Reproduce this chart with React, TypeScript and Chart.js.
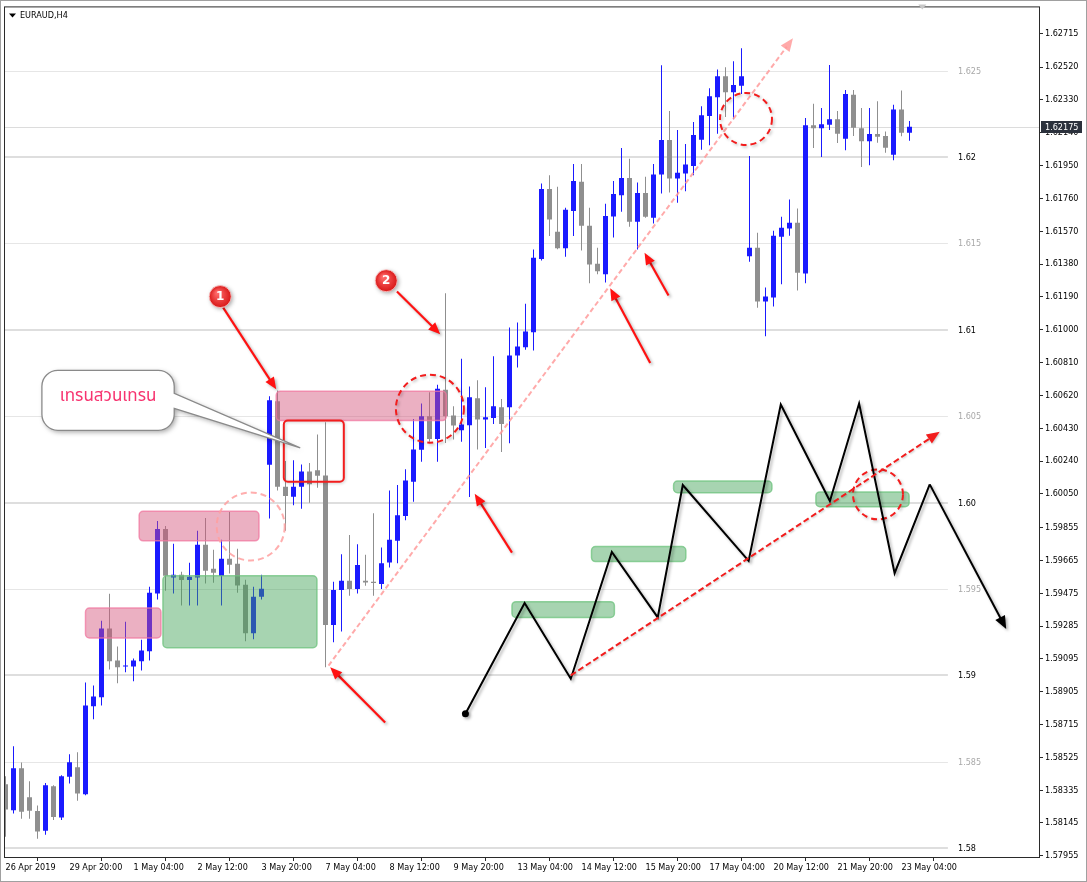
import { useEffect, useRef } from 'react';
import { Chart, registerables } from 'chart.js';

Chart.register(...registerables);

// ---------------- DATA ----------------
const SYMBOL = 'EURAUD,H4';

const opens = [
  1.58369, 1.58219, 1.58462, 1.58294, 1.58214, 1.58100, 1.58358, 1.58177, 1.58412, 1.58467,
  1.58312, 1.58821, 1.58873, 1.59270, 1.59085, 1.59051, 1.59051, 1.59081, 1.59139, 1.59474,
  1.59847, 1.59566, 1.59582, 1.59551, 1.59566, 1.59755, 1.59616, 1.59574, 1.59674, 1.59645,
  1.59524, 1.59243, 1.59455, 1.60219, 1.60586, 1.60091, 1.60034, 1.60091, 1.60180, 1.60186,
  1.60157, 1.59291, 1.59493, 1.59547, 1.59499, 1.59547, 1.59541, 1.59528, 1.59653, 1.59778,
  1.59922, 1.60120, 1.60305, 1.60499, 1.60368, 1.60653, 1.60503, 1.60418, 1.60447, 1.60603,
  1.60480, 1.60489, 1.60551, 1.60551, 1.60851, 1.60898, 1.60986, 1.61410, 1.61815, 1.61567,
  1.61471, 1.61688, 1.61856, 1.61602, 1.61382, 1.61321, 1.61655, 1.61779, 1.61879, 1.61625,
  1.61792, 1.61648, 1.61898, 1.62098, 1.61875, 1.61904, 1.61948, 1.62100, 1.62237, 1.62346,
  1.62468, 1.62375, 1.62412, 1.61425, 1.61475, 1.61163, 1.61186, 1.61538, 1.61586, 1.61619,
  1.61326, 1.62183, 1.62167, 1.62186, 1.62218, 1.62106, 1.62360, 1.62167, 1.62091, 1.62133,
  1.62121, 1.62013, 1.62275, 1.62140,
];
const highs = [
  1.58416, 1.58589, 1.58495, 1.58387, 1.58246, 1.58377, 1.58364, 1.58421, 1.58543, 1.58554,
  1.58958, 1.58941, 1.59316, 1.59472, 1.59166, 1.59310, 1.59097, 1.59206, 1.59512, 1.59893,
  1.59864, 1.59761, 1.59599, 1.59651, 1.59836, 1.59911, 1.59726, 1.59784, 1.59945, 1.59732,
  1.59553, 1.59512, 1.59582, 1.60615, 1.60648, 1.60240, 1.60244, 1.60220, 1.60228, 1.60394,
  1.60465, 1.59541, 1.59701, 1.59812, 1.59759, 1.59697, 1.59938, 1.59739, 1.60070, 1.60101,
  1.60192, 1.60484, 1.60573, 1.60638, 1.60682, 1.61211, 1.60557, 1.60832, 1.60671, 1.60707,
  1.60667, 1.60846, 1.60599, 1.61013, 1.61042, 1.61150, 1.61465, 1.61846, 1.61894, 1.61827,
  1.61706, 1.61960, 1.61960, 1.61706, 1.61475, 1.61729, 1.61861, 1.62052, 1.61990, 1.61852,
  1.61885, 1.61960, 1.62531, 1.62266, 1.62156, 1.62075, 1.62202, 1.62294, 1.62398, 1.62506,
  1.62519, 1.62554, 1.62629, 1.62006, 1.61561, 1.61244, 1.61573, 1.61654, 1.61754, 1.61702,
  1.62225, 1.62308, 1.62283, 1.62533, 1.62266, 1.62387, 1.62387, 1.62283, 1.62283, 1.62323,
  1.62148, 1.62302, 1.62385, 1.62208,
];
const lows = [
  1.58065, 1.58200, 1.58169, 1.58169, 1.58054, 1.58077, 1.58162, 1.58162, 1.58373, 1.58273,
  1.58306, 1.58746, 1.58825, 1.59033, 1.58954, 1.59018, 1.58966, 1.59027, 1.59085, 1.59439,
  1.59489, 1.59474, 1.59404, 1.59404, 1.59404, 1.59531, 1.59535, 1.59404, 1.59589, 1.59478,
  1.59197, 1.59208, 1.59439, 1.59907, 1.60070, 1.59836, 1.59984, 1.59964, 1.59999, 1.60085,
  1.59046, 1.59191, 1.59254, 1.59460, 1.59474, 1.59518, 1.59460, 1.59499, 1.59624, 1.59649,
  1.59897, 1.60005, 1.60236, 1.60351, 1.60236, 1.60345, 1.60365, 1.60351, 1.60032, 1.60307,
  1.60316, 1.60455, 1.60293, 1.60343, 1.60782, 1.60884, 1.60880, 1.61401, 1.61542, 1.61466,
  1.61423, 1.61542, 1.61459, 1.61269, 1.61321, 1.61274, 1.61534, 1.61683, 1.61596, 1.61465,
  1.61648, 1.61615, 1.61788, 1.61794, 1.61735, 1.61802, 1.61894, 1.62042, 1.62068, 1.62134,
  1.62231, 1.62218, 1.62365, 1.61394, 1.61128, 1.60963, 1.61134, 1.61263, 1.61544, 1.61227,
  1.61269, 1.62052, 1.62000, 1.62156, 1.62081, 1.62039, 1.62121, 1.61942, 1.61952, 1.62083,
  1.62025, 1.61981, 1.62120, 1.62094,
];
const closes = [
  1.58223, 1.58462, 1.58210, 1.58216, 1.58095, 1.58364, 1.58179, 1.58416, 1.58496, 1.58316,
  1.58825, 1.58877, 1.59270, 1.59081, 1.59046, 1.59055, 1.59085, 1.59143, 1.59478, 1.59847,
  1.59576, 1.59582, 1.59551, 1.59570, 1.59755, 1.59605, 1.59593, 1.59674, 1.59639, 1.59520,
  1.59243, 1.59455, 1.59501, 1.60592, 1.60091, 1.60038, 1.60091, 1.60180, 1.60105, 1.60155,
  1.59291, 1.59493, 1.59547, 1.59499, 1.59638, 1.59537, 1.59534, 1.59649, 1.59784, 1.59926,
  1.60128, 1.60307, 1.60499, 1.60368, 1.60659, 1.60499, 1.60446, 1.60451, 1.60609, 1.60480,
  1.60494, 1.60557, 1.60455, 1.60851, 1.60903, 1.60990, 1.61417, 1.61815, 1.61638, 1.61471,
  1.61694, 1.61861, 1.61602, 1.61378, 1.61338, 1.61659, 1.61786, 1.61879, 1.61625, 1.61792,
  1.61654, 1.61898, 1.62098, 1.61875, 1.61908, 1.61956, 1.62127, 1.62241, 1.62352, 1.62468,
  1.62375, 1.62416, 1.62468, 1.61475, 1.61163, 1.61192, 1.61544, 1.61590, 1.61619, 1.61330,
  1.62183, 1.62167, 1.62190, 1.62218, 1.62134, 1.62364, 1.62169, 1.62091, 1.62133, 1.62117,
  1.62054, 1.62275, 1.62140, 1.62175,
];

const dateTickIdx = [0, 8, 16, 24, 32, 40, 48, 56, 64, 72, 80, 88, 96, 104, 112];
const dateTickLabels = [
  '26 Apr 2019', '29 Apr 20:00', '1 May 04:00', '2 May 12:00', '3 May 20:00',
  '7 May 04:00', '8 May 12:00', '9 May 20:00', '13 May 04:00', '14 May 12:00',
  '15 May 20:00', '17 May 04:00', '20 May 12:00', '21 May 20:00', '23 May 04:00',
];

const priceTickLabels = [
  '1.57955', '1.58145', '1.58335', '1.58525', '1.58715', '1.58905', '1.59095',
  '1.59285', '1.59475', '1.59665', '1.59855', '1.60050', '1.60240', '1.60430',
  '1.60620', '1.60810', '1.61000', '1.61190', '1.61380', '1.61570', '1.61760',
  '1.61950', '1.62140', '1.62330', '1.62520', '1.62715',
];
const priceTickValues = priceTickLabels.map(Number);

const levelValues = [1.58, 1.585, 1.59, 1.595, 1.6, 1.605, 1.61, 1.615, 1.62, 1.625];
const levelLabels = ['1.58', '1.585', '1.59', '1.595', '1.60', '1.605', '1.61', '1.615', '1.62', '1.625'];

const BID = 1.62175;
const BID_LABEL = '1.62175';

// annotations, anchored in (bar index, price)
const pinkZones = [
  { x0: 10.0, x1: 19.43, top: 1.59389, bottom: 1.59216 },
  { x0: 16.71, x1: 31.68, top: 1.59949, bottom: 1.59778 },
  { x0: 33.84, x1: 55.09, top: 1.60644, bottom: 1.60474 },
];
const greenZones = [
  { x0: 19.68, x1: 38.93, top: 1.59576, bottom: 1.5916 },
  { x0: 63.31, x1: 76.11, top: 1.59426, bottom: 1.59335 },
  { x0: 73.25, x1: 85.04, top: 1.59745, bottom: 1.59658 },
  { x0: 83.51, x1: 95.8, top: 1.60124, bottom: 1.60057 },
  { x0: 101.3, x1: 112.95, top: 1.60061, bottom: 1.59976 },
];
const redBox = { x0: 34.79, x1: 42.29, top: 1.60474, bottom: 1.6012 };
const dashedCircles = [
  { x: 30.65, y: 1.59861, faint: true },
  { x: 53.05, y: 1.60543, faint: false },
  { x: 92.56, y: 1.6222, faint: false },
  { x: 109.06, y: 1.60047, faint: false },
];
const circleRadii = [34, 34, 26, 25];
const pinkTrend = { from: [40.38, 1.59056], to: [98.43, 1.62687] };
const redTrend = { from: [70.66, 1.58999], to: [116.78, 1.60409] };
const redArrows = [
  { from: [27.21, 1.61128], to: [33.84, 1.60655] },
  { from: [48.93, 1.61221], to: [54.34, 1.60974] },
  { from: [47.46, 1.58727], to: [40.59, 1.59046] },
  { from: [63.31, 1.5971], to: [58.65, 1.60051] },
  { from: [80.59, 1.60807], to: [75.59, 1.6124] },
  { from: [82.88, 1.61198], to: [79.88, 1.61446] },
];
const badges = [
  { x: 26.84, y: 1.61192, text: '1' },
  { x: 47.59, y: 1.61284, text: '2' },
];
const zigzagIdx = [57.49, 64.89, 70.66, 75.79, 81.53, 84.66, 92.89, 96.91, 103.05, 106.7, 111.14, 115.53, 125.09];
const zigzagPrice = [1.58777, 1.59418, 1.5898, 1.59714, 1.59335, 1.60101, 1.59662, 1.60567, 1.60009, 1.60573, 1.59591, 1.60105, 1.59268];
const callout = {
  x0: 4.55, x1: 21.09, top: 1.60765, bottom: 1.60418,
  baseTop: 1.60632, baseBottom: 1.60545,
  tipX: 36.84, tipY: 1.60316,
  text: 'เทรนสวนเทรน',
};
const LEVEL_END_IDX = 117.8;
const LEVEL_LABEL_IDX = 119.06;
const SHIFT_MARK_IDX = 114.6;

// ---------------- SCALE SETUP ----------------
const X_MIN = -0.0625;
const X_MAX = 129.1875;
const Y_MIN = 1.579481;
const Y_MAX = 1.628658;

const FONT = '"DejaVu Sans Condensed", "DejaVu Sans", sans-serif';
const THAI_FONT = '"Noto Sans Thai", "Noto Sans Thai Looped", "Loma", "Garuda", "Noto Sans", sans-serif';
const BULL = '#1a1aff';
const BEAR = '#8f8f8f';
const FRAME = '#2a2a2a';

function arrowLine(ctx: CanvasRenderingContext2D, x0: number, y0: number, x1: number, y1: number,
  color: string, lw: number, head: number, dash: number[] = []) {
  const ang = Math.atan2(y1 - y0, x1 - x0);
  const c = Math.cos(ang), s = Math.sin(ang);
  const bx = x1 - c * head * 0.8, by = y1 - s * head * 0.8;
  ctx.strokeStyle = color;
  ctx.lineWidth = lw;
  ctx.setLineDash(dash);
  ctx.beginPath();
  ctx.moveTo(x0, y0);
  ctx.lineTo(bx, by);
  ctx.stroke();
  ctx.setLineDash([]);
  ctx.fillStyle = color;
  const w = head * 0.42;
  ctx.beginPath();
  ctx.moveTo(x1, y1);
  ctx.lineTo(x1 - c * head + s * w, y1 - s * head - c * w);
  ctx.lineTo(x1 - c * head - s * w, y1 - s * head + c * w);
  ctx.closePath();
  ctx.fill();
}

function shadow(ctx: CanvasRenderingContext2D, a = 0.3, blur = 3, off = 1.5) {
  ctx.shadowColor = `rgba(0,0,0,${a})`;
  ctx.shadowBlur = blur;
  ctx.shadowOffsetX = off;
  ctx.shadowOffsetY = off;
}
function noShadow(ctx: CanvasRenderingContext2D) {
  ctx.shadowColor = 'rgba(0,0,0,0)';
  ctx.shadowBlur = 0;
  ctx.shadowOffsetX = 0;
  ctx.shadowOffsetY = 0;
}

const overlay = {
  id: 'overlay',
  beforeDatasetsDraw(chart: any) {
    const { ctx, chartArea: a, scales } = chart;
    const X = (v: number) => scales.x.getPixelForValue(v);
    const Y = (v: number) => scales.y.getPixelForValue(v);
    ctx.save();
    ctx.beginPath();
    ctx.rect(a.left, a.top, a.right - a.left, a.bottom - a.top);
    ctx.clip();
    const xEnd = X(LEVEL_END_IDX);
    levelValues.forEach((lv, k) => {
      const major = levelLabels[k].length <= 4;
      const py = Math.round(Y(lv));
      ctx.fillStyle = major ? '#dedede' : '#e6e6e6';
      if (major) ctx.fillRect(a.left, py - 1, xEnd - a.left, 2);
      else ctx.fillRect(a.left, py, xEnd - a.left, 1);
      ctx.font = `9px ${FONT}`;
      ctx.textBaseline = 'middle';
      ctx.textAlign = 'left';
      ctx.fillStyle = major ? '#000000' : '#a9a9a9';
      ctx.fillText(levelLabels[k], X(LEVEL_LABEL_IDX), py + 0.5);
    });
    // bid line
    const by = Math.round(Y(BID));
    ctx.fillStyle = '#dcdcdc';
    ctx.fillRect(a.left, by, a.right - a.left, 1);
    ctx.restore();
  },
  afterDatasetsDraw(chart: any) {
    const { ctx, chartArea: a, scales } = chart;
    const X = (v: number) => scales.x.getPixelForValue(v);
    const Y = (v: number) => scales.y.getPixelForValue(v);
    ctx.save();
    ctx.beginPath();
    ctx.rect(a.left, a.top, a.right - a.left, a.bottom - a.top);
    ctx.clip();

    // zones
    const zone = (z: any, fill: string, stroke: string) => {
      const l = X(z.x0), r = X(z.x1), t = Y(z.top), b = Y(z.bottom);
      ctx.beginPath();
      ctx.roundRect(l, t, r - l, b - t, 4);
      ctx.fillStyle = fill;
      ctx.fill();
      ctx.lineWidth = 1.5;
      ctx.strokeStyle = stroke;
      ctx.stroke();
    };
    pinkZones.forEach((z) => zone(z, 'rgba(212,82,122,0.46)', 'rgba(240,120,160,0.75)'));
    greenZones.forEach((z) => zone(z, 'rgba(64,162,86,0.46)', 'rgba(110,195,125,0.75)'));

    // red box
    {
      const l = X(redBox.x0), r = X(redBox.x1), t = Y(redBox.top), b = Y(redBox.bottom);
      shadow(ctx, 0.2, 3, 1);
      ctx.beginPath();
      ctx.roundRect(l, t, r - l, b - t, 4);
      ctx.strokeStyle = '#f21d1d';
      ctx.lineWidth = 2;
      ctx.stroke();
      noShadow(ctx);
    }

    // pink trend line
    arrowLine(ctx, X(pinkTrend.from[0]), Y(pinkTrend.from[1]), X(pinkTrend.to[0]), Y(pinkTrend.to[1]),
      'rgba(255,155,155,0.85)', 2, 13, [5, 3]);

    // dashed circles
    dashedCircles.forEach((c, k) => {
      ctx.beginPath();
      ctx.arc(X(c.x), Y(c.y), circleRadii[k], 0, Math.PI * 2);
      ctx.setLineDash([6, 4]);
      ctx.lineWidth = 2;
      if (c.faint) {
        ctx.strokeStyle = 'rgba(255,160,160,0.85)';
      } else {
        shadow(ctx, 0.25, 3, 1.5);
        ctx.strokeStyle = '#f21d1d';
      }
      ctx.stroke();
      noShadow(ctx);
      ctx.setLineDash([]);
    });

    // red arrows
    redArrows.forEach((ar) => {
      shadow(ctx, 0.28, 3, 2);
      arrowLine(ctx, X(ar.from[0]), Y(ar.from[1]), X(ar.to[0]), Y(ar.to[1]), '#ff1212', 2.2, 12);
      noShadow(ctx);
    });

    // zigzag
    {
      shadow(ctx, 0.3, 3, 2);
      ctx.strokeStyle = '#000';
      ctx.lineWidth = 2;
      ctx.lineJoin = 'miter';
      ctx.beginPath();
      const n = zigzagIdx.length;
      for (let k = 0; k < n - 1; k++) {
        const px = X(zigzagIdx[k]), py = Y(zigzagPrice[k]);
        if (k === 0) ctx.moveTo(px, py); else ctx.lineTo(px, py);
      }
      ctx.stroke();
      arrowLine(ctx, X(zigzagIdx[n - 2]), Y(zigzagPrice[n - 2]), X(zigzagIdx[n - 1]), Y(zigzagPrice[n - 1]), '#000', 2, 13);
      ctx.fillStyle = '#000';
      ctx.beginPath();
      ctx.arc(X(zigzagIdx[0]), Y(zigzagPrice[0]), 3.5, 0, Math.PI * 2);
      ctx.fill();
      noShadow(ctx);
    }

    // red dashed trend line
    shadow(ctx, 0.2, 2, 1);
    arrowLine(ctx, X(redTrend.from[0]), Y(redTrend.from[1]), X(redTrend.to[0]), Y(redTrend.to[1]),
      '#f21d1d', 2, 13, [6, 3]);
    noShadow(ctx);

    // callout
    {
      const l = X(callout.x0), r = X(callout.x1), t = Y(callout.top), b = Y(callout.bottom);
      const rad = 16;
      const py0 = Y(callout.baseTop), py1 = Y(callout.baseBottom);
      const tx = X(callout.tipX), ty = Y(callout.tipY);
      ctx.beginPath();
      ctx.moveTo(l + rad, t);
      ctx.lineTo(r - rad, t);
      ctx.arcTo(r, t, r, t + rad, rad);
      ctx.lineTo(r, py0);
      ctx.lineTo(tx, ty);
      ctx.lineTo(r, py1);
      ctx.lineTo(r, b - rad);
      ctx.arcTo(r, b, r - rad, b, rad);
      ctx.lineTo(l + rad, b);
      ctx.arcTo(l, b, l, b - rad, rad);
      ctx.lineTo(l, t + rad);
      ctx.arcTo(l, t, l + rad, t, rad);
      ctx.closePath();
      shadow(ctx, 0.35, 5, 2);
      ctx.fillStyle = '#ffffff';
      ctx.fill();
      noShadow(ctx);
      ctx.strokeStyle = '#8a8a8a';
      ctx.lineWidth = 1.3;
      ctx.stroke();
      ctx.fillStyle = '#f7336f';
      ctx.font = `17px ${THAI_FONT}`;
      ctx.textAlign = 'center';
      ctx.textBaseline = 'middle';
      ctx.fillText(callout.text, (l + r) / 2, t + (b - t) * 0.46);
    }

    // badges
    badges.forEach((bd) => {
      const cx = X(bd.x), cy = Y(bd.y), R = 11;
      shadow(ctx, 0.35, 4, 1.5);
      const g = ctx.createRadialGradient(cx - 3, cy - 4, 1, cx, cy, R);
      g.addColorStop(0, '#ff6a6a');
      g.addColorStop(1, '#d81818');
      ctx.fillStyle = g;
      ctx.beginPath();
      ctx.arc(cx, cy, R, 0, Math.PI * 2);
      ctx.fill();
      noShadow(ctx);
      ctx.strokeStyle = 'rgba(255,200,200,0.8)';
      ctx.lineWidth = 1;
      ctx.stroke();
      ctx.fillStyle = '#ffffff';
      ctx.font = `bold 12px "DejaVu Sans", sans-serif`;
      ctx.textAlign = 'center';
      ctx.textBaseline = 'middle';
      ctx.fillText(bd.text, cx, cy + 0.5);
    });

    ctx.restore();
  },
  afterDraw(chart: any) {
    const { ctx, chartArea: a, scales, width, height } = chart;
    const X = (v: number) => scales.x.getPixelForValue(v);
    const Y = (v: number) => scales.y.getPixelForValue(v);
    ctx.save();
    // frame
    ctx.strokeStyle = FRAME;
    ctx.lineWidth = 1;
    ctx.strokeRect(a.left - 0.5, a.top - 0.5, a.right - a.left + 1, a.bottom - a.top + 1);
    // outer border
    ctx.strokeStyle = '#a0a0a0';
    ctx.strokeRect(0.5, 0.5, width - 1, height - 1);
    // title
    ctx.fillStyle = '#000';
    ctx.beginPath();
    ctx.moveTo(a.left + 4, a.top + 6);
    ctx.lineTo(a.left + 11, a.top + 6);
    ctx.lineTo(a.left + 7.5, a.top + 10);
    ctx.closePath();
    ctx.fill();
    ctx.font = `9px ${FONT}`;
    ctx.textAlign = 'left';
    ctx.textBaseline = 'middle';
    ctx.fillText(SYMBOL, a.left + 15, a.top + 8);
    // chart shift marker
    const sx = X(SHIFT_MARK_IDX);
    ctx.fillStyle = '#c8c8c8';
    ctx.beginPath();
    ctx.moveTo(sx - 4, a.top - 3);
    ctx.lineTo(sx + 4, a.top - 3);
    ctx.lineTo(sx, a.top + 2);
    ctx.closePath();
    ctx.fill();
    // bid label
    const by = Y(BID);
    ctx.fillStyle = '#2b313c';
    ctx.fillRect(a.right + 2, Math.round(by) - 6, 41, 12);
    ctx.fillStyle = '#ffffff';
    ctx.font = `9px ${FONT}`;
    ctx.textAlign = 'left';
    ctx.textBaseline = 'middle';
    ctx.fillText(BID_LABEL, a.right + 6, Math.round(by) + 0.5);
    ctx.restore();
  },
};

export default function App() {
  const ref = useRef<HTMLCanvasElement>(null);
  useEffect(() => {
    const canvas = ref.current;
    if (!canvas) return;
    const bodies = opens.map((o, i) => ({ x: i, y: [o, closes[i]] }));
    const wicks = lows.map((l, i) => ({ x: i, y: [l, highs[i]] }));
    const colors = opens.map((o, i) => (closes[i] >= o ? BULL : BEAR));
    const chart = new Chart(canvas, {
      type: 'bar',
      data: {
        datasets: [
          {
            label: 'body', data: bodies as any, backgroundColor: colors, borderWidth: 0,
            barThickness: 5, grouped: false, minBarLength: 1, order: 0, inflateAmount: 0,
          } as any,
          {
            label: 'wick', data: wicks as any, backgroundColor: colors, borderWidth: 0,
            barThickness: 1, grouped: false, order: 1, inflateAmount: 0,
          } as any,
        ],
      },
      options: {
        animation: false,
        responsive: false,
        maintainAspectRatio: false,
        devicePixelRatio: 1,
        layout: { padding: { left: 5, top: 5, right: 0, bottom: 0 } },
        plugins: { legend: { display: false }, tooltip: { enabled: false }, title: { display: false } },
        scales: {
          x: {
            type: 'linear',
            position: 'bottom',
            min: X_MIN,
            max: X_MAX,
            offset: false,
            grid: { drawOnChartArea: false, drawTicks: true, tickLength: 4, color: FRAME },
            border: { display: false },
            ticks: {
              autoSkip: false,
              maxRotation: 0,
              minRotation: 0,
              align: 'start',
              padding: 1,
              color: '#000',
              font: { family: FONT, size: 9 },
              callback: (v: any) => {
                const k = dateTickIdx.indexOf(Number(v));
                return k >= 0 ? dateTickLabels[k] : '';
              },
            },
            afterBuildTicks: (s: any) => { s.ticks = dateTickIdx.map((v) => ({ value: v })); },
            afterFit: (s: any) => { s.height = 25; },
          } as any,
          y: {
            type: 'linear',
            position: 'right',
            min: Y_MIN,
            max: Y_MAX,
            grid: { drawOnChartArea: false, drawTicks: true, tickLength: 4, color: FRAME },
            border: { display: false },
            ticks: {
              autoSkip: false,
              padding: 2,
              color: '#000',
              font: { family: FONT, size: 9 },
              callback: (v: any) => {
                const k = priceTickValues.findIndex((p) => Math.abs(p - Number(v)) < 1e-7);
                return k >= 0 ? priceTickLabels[k] : '';
              },
            },
            afterBuildTicks: (s: any) => { s.ticks = priceTickValues.map((v) => ({ value: v })); },
            afterFit: (s: any) => { s.width = 48; },
          } as any,
        },
      },
      plugins: [overlay],
    });
    return () => chart.destroy();
  }, []);
  return (
    <div style={{ position: 'absolute', left: 0, top: 0, width: 1087, height: 882, background: '#fff' }}>
      <canvas ref={ref} width={1087} height={882} style={{ display: 'block' }} />
    </div>
  );
}
